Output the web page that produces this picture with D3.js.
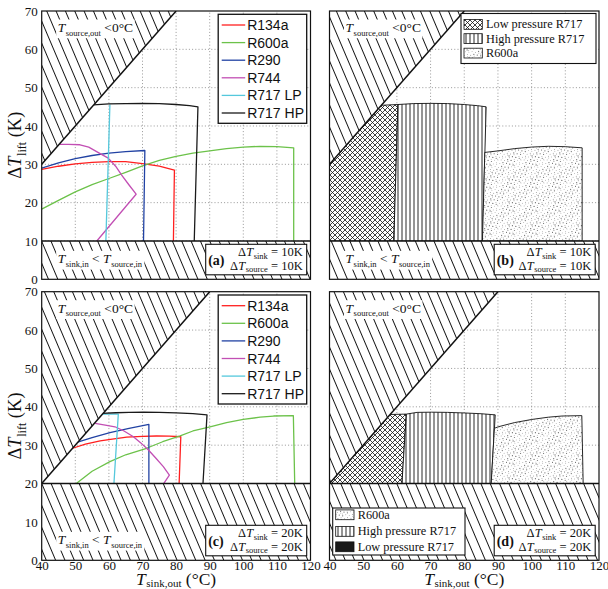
<!DOCTYPE html>
<html><head><meta charset="utf-8">
<script src="https://cdn.jsdelivr.net/npm/d3@7"></script>
<style>body{margin:0;background:#fff}svg{display:block}</style>
</head><body>
<svg id="chart" width="608" height="589"></svg>
<script>
// ---------------- DATA ----------------
const xTicks = [40, 50, 60, 70, 80, 90, 100, 110, 120];
const yTicks = [0, 10, 20, 30, 40, 50, 60, 70];
const seriesNames = ["R134a", "R600a", "R290", "R744", "R717 LP", "R717 HP"];
const seriesColors = ["#ff1f1f", "#6cc24a", "#2142a3", "#c24fb4", "#55c8dc", "#1a1a1a"];

// Delta T = 10 K  (panel a)  [T_sink,out, dT_lift]
const r134a_10 = [[40,28.7],[45,29.5],[50,30.1],[55,30.5],[60,30.7],[65,30.7],[70,30.2],[75,29.5],[79.5,28.5],[79.2,10]];
const r600a_10 = [[40,18.3],[45,20.6],[50,22.8],[55,24.7],[60,26.3],[65,27.9],[70,29.6],[75,31.0],[80,32.1],[85,32.9],[90,33.5],[95,34.1],[100,34.5],[105,34.7],[110,34.6],[115,34.3],[115,10]];
const r290_10  = [[40,29.0],[45,30.4],[50,31.5],[55,32.3],[60,32.9],[65,33.3],[70.7,33.6],[70.3,10]];
const r744_10  = [[45.4,35.2],[48,35.2],[51.4,35.1],[54,34.5],[57,33.0],[59.8,31.6],[62,29.5],[63.8,27.2],[66,24.6],[68.1,22.2],[56.4,10]];
const r717lp_10 = [[60.3,45.6],[59.1,10]];
const r717hp_10 = [[55.4,45.5],[60,45.75],[65,45.85],[70,45.9],[75,45.85],[80,45.6],[84,45.3],[86.5,45.0],[85.4,10]];

// Delta T = 20 K  (panel c)
const r134a_20 = [[49.2,29.2],[53,30.3],[57.4,31.1],[61,31.6],[65.3,32.1],[70,32.3],[74.2,32.4],[78,32.35],[81.4,32.2],[80.9,20]];
const r600a_20 = [[50.3,20],[55,23.2],[60.3,25.7],[65,27.5],[71.2,29.2],[76,30.9],[81.2,32.4],[85,33.7],[90.1,34.8],[95,35.9],[100,36.7],[105,37.3],[109,37.6],[114.9,37.7],[115.3,20]];
const r290_20  = [[50.7,30.8],[55,32.0],[60.3,33.3],[66,34.4],[71.9,35.4],[71.9,20]];
const r744_20  = [[55.9,35.7],[58.5,35.3],[61.8,34.8],[64.5,33.7],[67.3,32.2],[69.5,30.6],[71.7,28.8],[74,26.6],[76.2,24.4],[78,22.2],[76.3,20]];
const r717lp_20 = [[57.9,38.1],[62.8,38.1],[61.5,20]];
const r717hp_20 = [[57.9,38.3],[62,38.45],[66,38.55],[70.3,38.6],[75,38.55],[80,38.4],[85,38.2],[89.2,37.9],[88,20]];

// Operating regions (panels b and d)
const lpRegion_10 = [[40,10],[40,30],[55.4,45.4],[60.3,45.6],[59.1,10]];
const hpRegion_10 = [[59.1,10],[60.3,45.6],[65,45.85],[70,45.9],[75,45.85],[80,45.6],[84,45.3],[86.5,45.0],[85.4,10]];
const r600aRegion_10 = [[85.4,10],[86.1,33.1],[90,33.5],[95,34.1],[100,34.5],[105,34.7],[110,34.6],[115,34.3],[115,10]];
const lpRegion_20 = [[40,20],[58.0,38.0],[62.8,38.1],[61.5,20]];
const hpRegion_20 = [[61.5,20],[62.8,38.1],[66,38.55],[70.3,38.6],[75,38.55],[80,38.4],[85,38.2],[89.2,37.9],[88,20]];
const r600aRegion_20 = [[88,20],[88.95,34.4],[90.1,34.8],[95,35.9],[100,36.7],[105,37.3],[109,37.6],[114.9,37.7],[115.3,20]];

// Infeasible limits
const limitLine_10 = [[40,30],[80,70]];
const limitLine_20 = [[40,20],[90,70]];
const sinkLimit_10 = 10;
const sinkLimit_20 = 20;

// ---------------- DRAWING ----------------
const SERIF = "'Liberation Serif','DejaVu Serif',serif";
const SANS = "'Liberation Sans',Arial,sans-serif";
const svg = d3.select("#chart");
const defs = svg.append("defs");

// patterns
const hatch = defs.append("pattern").attr("id","hatch").attr("patternUnits","userSpaceOnUse")
  .attr("width",8.6).attr("height",8.6).attr("patternTransform","rotate(-23)");
hatch.append("rect").attr("width",8.6).attr("height",8.6).attr("fill","#fff");
hatch.append("line").attr("x1",4.3).attr("x2",4.3).attr("y1",-1).attr("y2",10).attr("stroke","#111").attr("stroke-width",0.95);

const cross = defs.append("pattern").attr("id","cross").attr("patternUnits","userSpaceOnUse").attr("width",5).attr("height",5);
cross.append("rect").attr("width",5).attr("height",5).attr("fill","#fff");
cross.append("path").attr("d","M-1,-1L6,6M-1,6L6,-1").attr("stroke","#111").attr("stroke-width",0.8);

const vert = defs.append("pattern").attr("id","vert").attr("patternUnits","userSpaceOnUse").attr("width",4).attr("height",4);
vert.append("rect").attr("width",4).attr("height",4).attr("fill","#fff");
vert.append("line").attr("x1",2).attr("x2",2).attr("y1",-1).attr("y2",5).attr("stroke","#111").attr("stroke-width",0.9);

const stip = defs.append("pattern").attr("id","stip").attr("patternUnits","userSpaceOnUse").attr("width",23).attr("height",23);
stip.append("rect").attr("width",23).attr("height",23).attr("fill","#fff");
const stipDots = d3.range(70).map(i => [((i*0.7548777+0.31)%1)*23, ((i*0.5698403+0.17)%1)*23, (i%3)]);
stip.selectAll("circle").data(stipDots).join("circle")
  .attr("cx",d=>d[0]).attr("cy",d=>d[1]).attr("r",d=>d[2]===0?0.6:0.45)
  .attr("fill",d=>d[2]===1?"#888":"#666");

// math-like text: each piece is its own <text>, placed one after another
function mathText(sel, x, y, parts, size, sub, anchor, subDy){
  subDy = subDy || size*0.28;
  const g = sel.append("g");
  let cx = 0;
  parts.forEach(p=>{
    const fs = p.sub ? sub : size;
    const t = g.append("text").attr("x",cx).attr("y",p.sub?subDy:0)
      .attr("font-family",SERIF).attr("font-size",fs).attr("fill","#111")
      .style("white-space","pre").text(p.t);
    if (p.it) t.attr("font-style","italic");
    if (p.b) t.attr("font-weight","bold");
    cx += t.node().getComputedTextLength() + (p.it?0.6:0);
  });
  const off = anchor==="end" ? -cx : anchor==="middle" ? -cx/2 : 0;
  g.attr("transform",`translate(${x+off},${y})`);
  return g;
}
function whiteBg(parent, grp, pad){
  const bb = grp.node().getBBox();
  const tr = grp.attr("transform");
  parent.insert("rect", function(){ return grp.node(); }).attr("transform",tr)
    .attr("x",bb.x-pad).attr("y",bb.y-pad+1).attr("width",bb.width+2*pad).attr("height",bb.height+2*pad-2).attr("fill","#fff");
}

const cols = [[41.7,310.5],[329.5,599]];
const rows = [[11,279.3],[291.7,560.3]];

const panels = [
  {c:0,r:0,kind:"lines",letter:"a",dt:"10K",limit:limitLine_10,sink:sinkLimit_10,
   series:[r134a_10,r600a_10,r290_10,r744_10,r717lp_10,r717hp_10]},
  {c:1,r:0,kind:"areas",letter:"b",dt:"10K",limit:limitLine_10,sink:sinkLimit_10,
   regions:[lpRegion_10,hpRegion_10,r600aRegion_10]},
  {c:0,r:1,kind:"lines",letter:"c",dt:"20K",limit:limitLine_20,sink:sinkLimit_20,
   series:[r134a_20,r600a_20,r290_20,r744_20,r717lp_20,r717hp_20]},
  {c:1,r:1,kind:"areas",letter:"d",dt:"20K",limit:limitLine_20,sink:sinkLimit_20,
   regions:[lpRegion_20,hpRegion_20,r600aRegion_20]}
];
const regionFills = ["url(#cross)","url(#vert)","url(#stip)"];
const axisLayer = svg.append("g");

panels.forEach((p,pi)=>{
  const x = d3.scaleLinear().domain([40,120]).range(cols[p.c]);
  const y = d3.scaleLinear().domain([0,70]).range([rows[p.r][1],rows[p.r][0]]);
  const g = svg.append("g");
  const cid = "clip"+pi;
  defs.append("clipPath").attr("id",cid).append("rect")
    .attr("x",x(40)).attr("y",y(70)).attr("width",x(120)-x(40)).attr("height",y(0)-y(70));
  const inner = g.append("g").attr("clip-path",`url(#${cid})`);
  inner.append("rect").attr("x",x(40)).attr("y",y(70)).attr("width",x(120)-x(40)).attr("height",y(0)-y(70)).attr("fill","#fff");

  // grid
  inner.selectAll(".gx").data(xTicks.slice(1,-1)).join("line")
    .attr("x1",d=>x(d)).attr("x2",d=>x(d)).attr("y1",y(0)).attr("y2",y(70))
    .attr("stroke","#8c8c8c").attr("stroke-width",0.9).attr("stroke-dasharray","1,2.2");
  inner.selectAll(".gy").data(yTicks.slice(1,-1)).join("line")
    .attr("y1",d=>y(d)).attr("y2",d=>y(d)).attr("x1",x(40)).attr("x2",x(120))
    .attr("stroke","#8c8c8c").attr("stroke-width",0.9).attr("stroke-dasharray","1,2.2");

  const line = d3.line().x(d=>x(d[0])).y(d=>y(d[1]));

  if (p.kind==="areas"){
    p.regions.forEach((reg,i)=>{
      inner.append("path").attr("d",line(reg)+"Z").attr("fill",regionFills[i])
        .attr("stroke","#111").attr("stroke-width",0.9).attr("stroke-linejoin","round");
    });
  } else {
    p.series.forEach((s,i)=>{
      inner.append("path").attr("d",line(s)).attr("fill","none")
        .attr("stroke",seriesColors[i]).attr("stroke-width",1.3).attr("stroke-linejoin","round");
    });
  }

  // infeasible hatched zones
  const L = p.limit;
  const tri = [[40,L[0][1]],[40,70],[L[1][0],70]];
  inner.append("path").attr("d",line(tri)+"Z").attr("fill","url(#hatch)");
  inner.append("path").attr("d",line([[40,0],[120,0],[120,p.sink],[40,p.sink]])+"Z").attr("fill","url(#hatch)");
  inner.append("path").attr("d",line(L)).attr("stroke","#111").attr("stroke-width",1.5).attr("fill","none");
  inner.append("line").attr("x1",x(40)).attr("x2",x(120)).attr("y1",y(p.sink)).attr("y2",y(p.sink))
    .attr("stroke","#111").attr("stroke-width",1.5);

  // hatch labels
  const t1 = mathText(g, x(40)+16, y(70)+21, [{t:"T",it:1},{t:"source,out",sub:1},{t:" <0°C"}], 13.5, 8.5);
  whiteBg(g, t1, 1.5);
  if (p.letter !== "d"){
    const t2 = mathText(g, x(40)+16, y(0)-16, [{t:"T",it:1},{t:"sink,in",sub:1},{t:" < "},{t:"T",it:1},{t:"source,in",sub:1}], 13.5, 8.5);
    whiteBg(g, t2, 1.5);
  }

  // annotation box
  const bx1 = x(120)-3.8, by1 = y(0)-4.5, bw = 101, bh = 30.5;
  g.append("rect").attr("x",bx1-bw).attr("y",by1-bh).attr("width",bw).attr("height",bh)
    .attr("fill","#fff").attr("stroke","#111").attr("stroke-width",1.1);
  g.append("text").attr("x",bx1-bw+2.5).attr("y",by1-bh/2+5).attr("font-family",SERIF)
    .attr("font-size",14).attr("font-weight","bold").attr("fill","#111").text(`(${p.letter})`);
  mathText(g, bx1-4, by1-bh+12, [{t:"Δ"},{t:"T",it:1},{t:"sink",sub:1},{t:" = "+p.dt}], 12.5, 8.5, "end", 2.5);
  mathText(g, bx1-4, by1-bh+25.5, [{t:"Δ"},{t:"T",it:1},{t:"source",sub:1},{t:" = "+p.dt}], 12.5, 8.5, "end", 2.5);

  // legends
  if (p.kind==="lines"){
    const lx = x(120)-92.3, ly = y(70)+3.3;
    const lg = g.append("g");
    lg.append("rect").attr("x",lx).attr("y",ly).attr("width",88.5).attr("height",109)
      .attr("fill","#fff").attr("stroke","#111").attr("stroke-width",1.3);
    seriesNames.forEach((n,i)=>{
      const yy = ly + 10.7 + i*17.6;
      lg.append("line").attr("x1",lx+3.5).attr("x2",lx+27).attr("y1",yy).attr("y2",yy)
        .attr("stroke",seriesColors[i]).attr("stroke-width",1.3);
      lg.append("text").attr("x",lx+29).attr("y",yy+5).attr("font-family",SANS).attr("font-size",14)
        .attr("fill","#111").text(n);
    });
  } else {
    let names, fills, lx, ly, lw, lh, rowsY;
    if (p.letter==="b"){
      names = ["Low pressure R717","High pressure R717","R600a"];
      fills = ["url(#cross)","url(#vert)","url(#stip)"];
      lx = 461; ly = y(70)+2.5; lw = 135; lh = 50; rowsY = [10.8,25,39.5];
    } else {
      names = ["R600a","High pressure R717","Low pressure R717"];
      fills = ["url(#stip)","url(#vert)","#1a1a1a"];
      lx = 332.7; ly = 508; lw = 132.3; lh = 47; rowsY = [6.7,23.3,38.7];
    }
    const lg = g.append("g");
    lg.append("rect").attr("x",lx).attr("y",ly).attr("width",lw).attr("height",lh)
      .attr("fill","#fff").attr("stroke","#111").attr("stroke-width",1.1);
    names.forEach((n,i)=>{
      const yy = ly + rowsY[i];
      lg.append("rect").attr("x",lx+3).attr("y",yy-4.8).attr("width",18.3).attr("height",9.8)
        .attr("fill",fills[i]).attr("stroke","#111").attr("stroke-width",0.8);
      lg.append("text").attr("x",lx+25).attr("y",yy+4).attr("font-family",SERIF).attr("font-size",12.3)
        .attr("fill","#111").text(n);
    });
  }

  // frame
  g.append("rect").attr("x",x(40)).attr("y",y(70)).attr("width",x(120)-x(40)).attr("height",y(0)-y(70))
    .attr("fill","none").attr("stroke","#111").attr("stroke-width",1.2);

  // axes labels
  if (p.c===0){
    const ax = d3.axisLeft(y).tickValues(yTicks).tickSize(0).tickPadding(4);
    const ag = axisLayer.append("g").attr("transform",`translate(${x(40)},0)`).call(ax);
    ag.select(".domain").remove();
    ag.selectAll("text").attr("font-family",SERIF).attr("font-size",13).attr("fill","#111");
    const cy = (y(0)+y(70))/2;
    const yl = axisLayer.append("g").attr("transform",`translate(21,${cy}) rotate(-90)`);
    mathText(yl, 0, 0, [{t:"Δ"},{t:"T",it:1},{t:"lift",sub:1},{t:" (K)"}], 18.5, 12, "middle", 4.5);
  }
  if (p.r===1){
    const ax = d3.axisBottom(x).tickValues(xTicks).tickSize(0).tickPadding(0.5);
    const ag = axisLayer.append("g").attr("transform",`translate(0,${y(0)})`).call(ax);
    ag.select(".domain").remove();
    ag.selectAll("text").attr("font-family",SERIF).attr("font-size",13).attr("fill","#111");
    mathText(axisLayer, (x(40)+x(120))/2, 584.5, [{t:"T",it:1},{t:"sink,out",sub:1},{t:" (°C)"}], 17.5, 11, "middle", 2);
  }
});
axisLayer.raise();
</script>
</body></html>
